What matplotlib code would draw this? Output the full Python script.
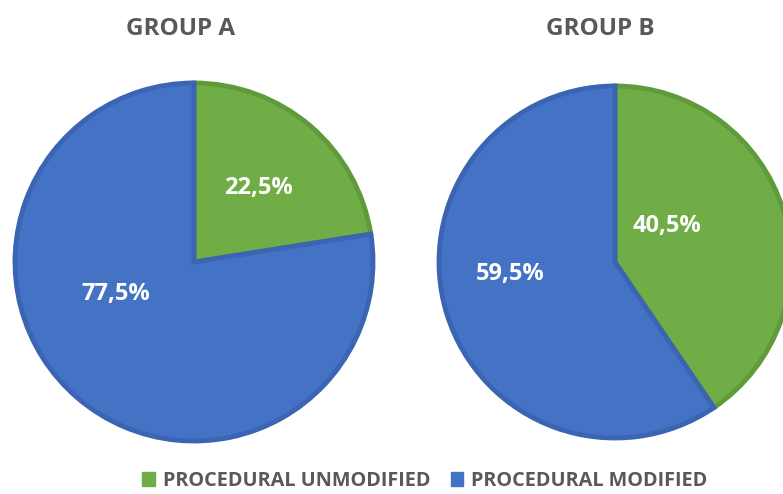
import matplotlib.pyplot as plt

plt.rcParams["font.family"] = ["Open Sans", "DejaVu Sans"]

groups = ["GROUP A", "GROUP B"]
categories = ["PROCEDURAL UNMODIFIED", "PROCEDURAL MODIFIED"]
group_a = [22.5, 77.5]
group_b = [40.5, 59.5]

colors = ["#70AD47", "#4472C4"]
edges = ["#5F9B3A", "#3B65B3"]

W, H = 783, 494
fig = plt.figure(figsize=(W / 100, H / 100), dpi=100)
ax = fig.add_axes([0, 0, 1, 1])
ax.set_xlim(0, W)
ax.set_ylim(0, H)
ax.set_aspect("equal")
ax.axis("off")

centers = [(194, H - 262), (615, H - 262)]
radii = [179, 176]
# label positions in pixels (x, y from top), as Excel placed them
label_pos = [[(258, 188), (116, 294)], [(667, 226), (510, 274)]]
title_pos = [(181, 29), (600, 29)]

for vals, c, r, lp, name, tp in zip([group_a, group_b], centers, radii,
                                     label_pos, groups, title_pos):
    wedges, texts, autotexts = ax.pie(
        vals, colors=colors, center=c, radius=r, startangle=90,
        counterclock=False, autopct=lambda p: f"{p:.1f}%".replace(".", ","),
        wedgeprops=dict(linewidth=3.5, joinstyle="miter"),
        textprops=dict(color="white", fontsize=17, fontweight="bold"))
    for w, e in zip(wedges, edges):
        w.set_edgecolor(e)
    for t, (x, y) in zip(autotexts, lp):
        t.set_position((x, H - y))
        t.set_ha("center")
        t.set_va("center")
    ax.text(tp[0], H - tp[1], name, ha="center", va="center",
            fontsize=17.5, fontweight="bold", color="#595959")

ax.set_xlim(0, W)
ax.set_ylim(0, H)

handles = [plt.Rectangle((0, 0), 1, 1, color=col) for col in colors]
fig.legend(handles, categories, loc="center", bbox_to_anchor=(425 / W, 1 - 481 / H),
           ncol=2, frameon=False, handlelength=0.65, handleheight=0.65,
           handletextpad=0.4, columnspacing=1.0,
           prop=dict(size=14.3, weight="bold"), labelcolor="#595959")

fig.savefig("out.png", dpi=100)
